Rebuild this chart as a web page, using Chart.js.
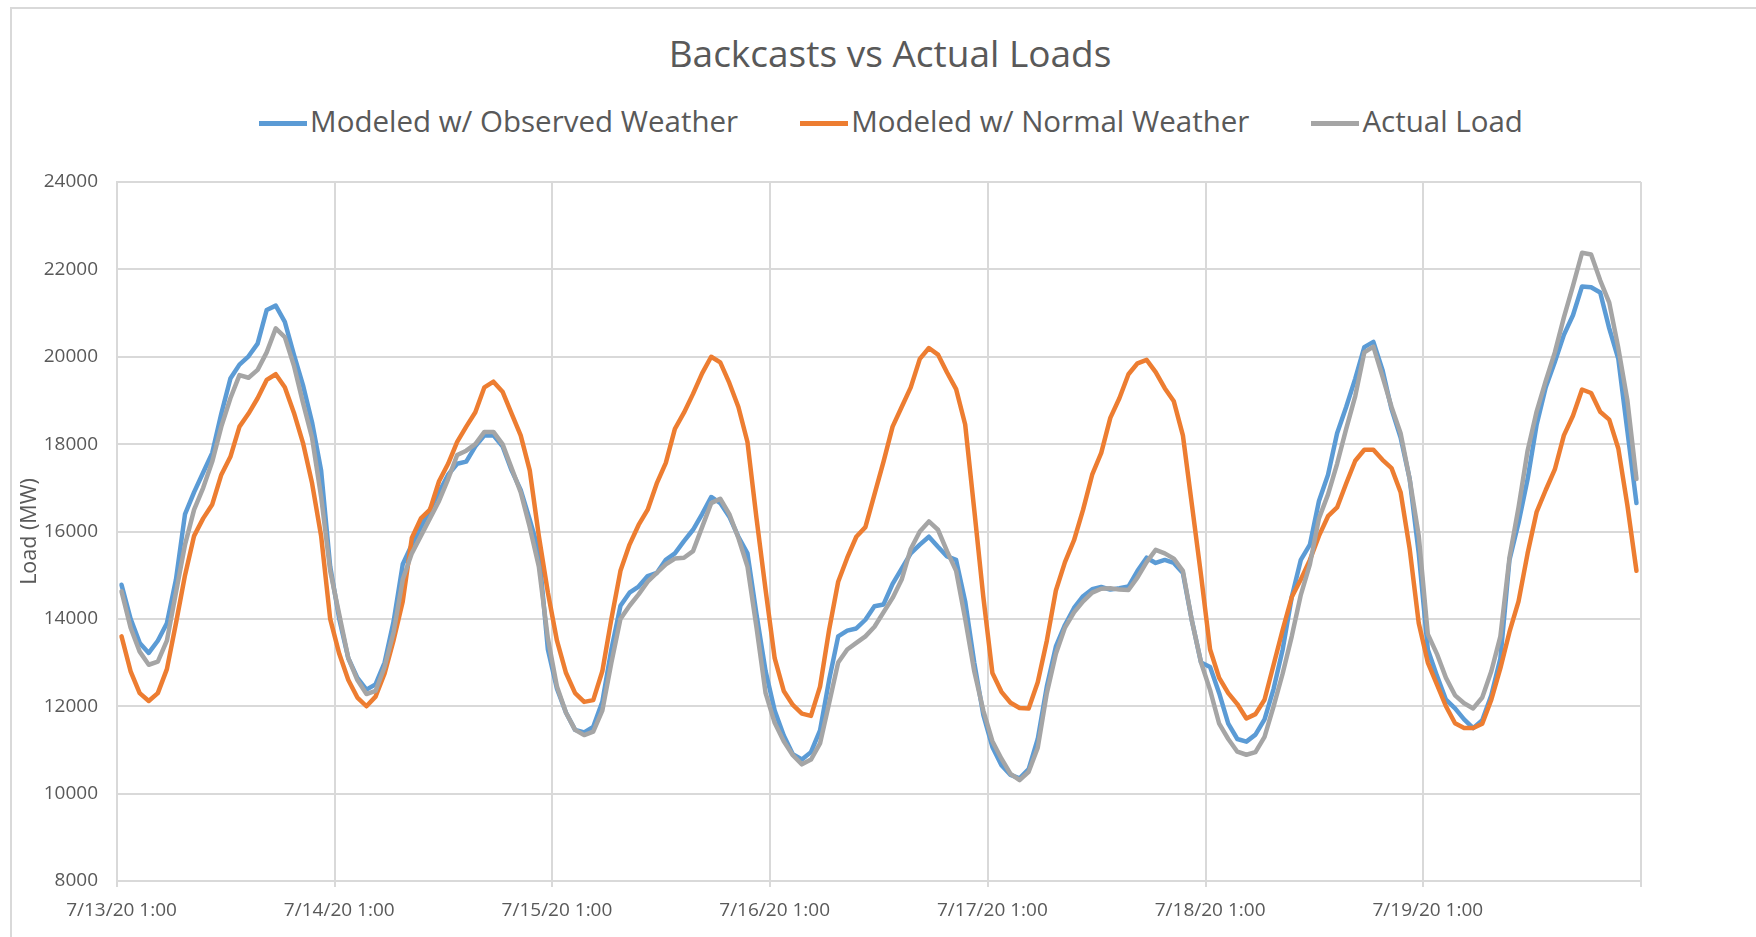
<!DOCTYPE html>
<html>
    <head>
        <meta charset="UTF-8" />
        <title>Backcasts vs Actual Loads</title>
        <script src="https://cdn.jsdelivr.net/npm/chart.js@4.4.2/dist/chart.umd.min.js"></script>
        <style>
            body {
                margin: 0;
                width: 1756px;
                height: 937px;
                overflow: hidden;
                background: #fff;
                font-family: "Open Sans", sans-serif;
                position: relative;
            }

            .frame {
                position: absolute;
                left: 10px;
                top: 7px;
                width: 1900px;
                height: 1100px;
                border: 2px solid #d9d9d9;
                box-sizing: border-box;
            }

            .title {
                position: absolute;
                left: 0;
                top: 35px;
                width: 1780px;
                text-align: center;
                font-size: 37px;
                line-height: 36px;
                color: #595959;
                white-space: nowrap;
            }

            #legend {
                position: absolute;
                left: 0;
                top: 107px;
                width: 1782px;
                display: flex;
                justify-content: center;
                gap: 62px;
                font-size: 29.5px;
                line-height: 28px;
                color: #595959;
                white-space: nowrap;
            }

            #legend .item {
                display: flex;
                align-items: center;
            }

            #legend .swatch {
                display: inline-block;
                width: 48px;
                height: 5px;
                margin-right: 3px;
                position: relative;
                top: 2px;
            }

            #wrap {
                position: absolute;
                left: 0;
                top: 0;
                width: 1756px;
                height: 937px;
            }
        </style>
    </head>
    <body>
        <div class="frame"></div>
        <div class="title">Backcasts vs Actual Loads</div>
        <div id="legend"></div>
        <div id="wrap">
            <canvas id="loadChart" width="1756" height="937"></canvas>
        </div>

        <script>
            // --- data (hourly, 7/13/20 1:00 .. 7/20/20 0:00) ---
            var seriesNames = ["Modeled w/ Observed Weather", "Modeled w/ Normal Weather", "Actual Load"];
            var seriesColors = ["#5b9bd5", "#ed7d31", "#a5a5a5"];
            var dayLabels = ["7/13/20 1:00", "7/14/20 1:00", "7/15/20 1:00", "7/16/20 1:00", "7/17/20 1:00", "7/18/20 1:00", "7/19/20 1:00"];

            var observedWeather = [
                14780, 14000, 13450, 13220, 13500, 13900, 14900, 16400, 16900, 17350, 17800, 18700, 19500, 19820, 20010, 20300, 21070, 21170, 20800, 20050, 19350, 18500, 17400, 15200,
                14000, 13100, 12650, 12380, 12500, 13000, 13950, 15250, 15700, 16100, 16500, 16900, 17300, 17550, 17600, 17950, 18200, 18200, 17950, 17400, 16950, 16270, 15550, 13300,
                12400, 11850, 11460, 11400, 11530, 12100, 13300, 14300, 14600, 14740, 14980, 15050, 15350, 15500, 15780, 16040, 16400, 16790, 16650, 16340, 15880, 15500, 14100, 12800,
                11900, 11330, 10900, 10780, 10950, 11450, 12600, 13600, 13730, 13780, 13980, 14290, 14330, 14800, 15150, 15500, 15700, 15880, 15650, 15430, 15350, 14400, 13000, 11800,
                11070, 10650, 10430, 10350, 10560, 11250, 12450, 13370, 13860, 14250, 14520, 14680, 14730, 14670, 14700, 14740, 15100, 15400, 15280, 15350, 15280, 15050, 13950, 13000,
                12900, 12300, 11600, 11250, 11190, 11350, 11700, 12400, 13300, 14500, 15350, 15700, 16700, 17300, 18250, 18850, 19500, 20220, 20340, 19700, 18800, 18150, 17200, 15500,
                13300, 12700, 12150, 11950, 11700, 11500, 11680, 12250, 13100, 15350, 16200, 17200, 18450, 19300, 19880, 20500, 20950, 21610, 21590, 21470, 20650, 19950, 18300, 16650
            ];

            var normalWeather = [
                13600, 12800, 12300, 12120, 12300, 12850, 13900, 15000, 15900, 16300, 16620, 17300, 17710, 18400, 18700, 19050, 19470, 19600, 19300, 18720, 18030, 17110, 15900, 14000,
                13200, 12600, 12200, 12000, 12220, 12750, 13520, 14400, 15850, 16300, 16500, 17150, 17550, 18050, 18400, 18730, 19300, 19430, 19200, 18700, 18200, 17400, 15900, 14600,
                13500, 12760, 12300, 12100, 12140, 12800, 14000, 15100, 15700, 16150, 16500, 17100, 17570, 18350, 18720, 19150, 19620, 20000, 19870, 19400, 18850, 18050, 16300, 14660,
                13100, 12350, 12030, 11830, 11780, 12450, 13750, 14850, 15400, 15880, 16100, 16850, 17600, 18400, 18850, 19300, 19950, 20200, 20050, 19640, 19260, 18450, 16500, 14500,
                12760, 12330, 12080, 11960, 11950, 12550, 13500, 14650, 15300, 15800, 16500, 17300, 17800, 18600, 19050, 19600, 19850, 19930, 19650, 19280, 18980, 18200, 16600, 15000,
                13300, 12650, 12300, 12050, 11720, 11820, 12150, 12950, 13750, 14500, 14900, 15350, 15900, 16350, 16550, 17100, 17620, 17870, 17870, 17640, 17450, 16900, 15600, 13900,
                13000, 12500, 12000, 11610, 11500, 11500, 11600, 12150, 12870, 13700, 14400, 15500, 16450, 16950, 17420, 18200, 18650, 19250, 19170, 18740, 18560, 17900, 16600, 15100
            ];

            var actualLoad = [
                14630, 13800, 13250, 12950, 13020, 13500, 14600, 15700, 16500, 17000, 17600, 18400, 19050, 19580, 19520, 19700, 20100, 20650, 20450, 19800, 18950, 18150, 16800, 15100,
                14100, 13100, 12600, 12280, 12350, 12900, 13700, 14900, 15500, 15900, 16300, 16700, 17200, 17750, 17850, 18000, 18280, 18280, 18000, 17450, 16900, 16100, 15200, 13550,
                12450, 11850, 11460, 11340, 11420, 11900, 13000, 14000, 14300, 14560, 14850, 15050, 15250, 15380, 15400, 15550, 16100, 16650, 16750, 16400, 15850, 15200, 13800, 12300,
                11620, 11200, 10880, 10670, 10780, 11150, 12070, 13000, 13300, 13450, 13600, 13820, 14150, 14480, 14900, 15600, 16000, 16230, 16040, 15550, 15100, 14000, 12800, 11900,
                11200, 10800, 10450, 10310, 10500, 11050, 12300, 13200, 13800, 14150, 14400, 14600, 14690, 14700, 14670, 14660, 14950, 15300, 15580, 15500, 15380, 15100, 13950, 13000,
                12370, 11600, 11250, 10960, 10890, 10950, 11300, 12000, 12750, 13600, 14550, 15250, 16300, 16850, 17550, 18350, 19100, 20100, 20230, 19550, 18850, 18250, 17200, 15900,
                13650, 13200, 12650, 12250, 12070, 11950, 12200, 12800, 13600, 15400, 16550, 17850, 18750, 19450, 20100, 20900, 21620, 22380, 22340, 21750, 21240, 20200, 19000, 17200
            ];

            // hourly category labels
            var hours = [];
            for (var d = 0; d < 7; d++) {
                for (var h = 1; h <= 24; h++) {
                    hours.push("7/" + (13 + d) + "/20 " + h + ":00");
                }
            }

            // --- legend ---
            var legendEl = document.getElementById("legend");
            seriesNames.forEach(function (name, i) {
                var item = document.createElement("span");
                item.className = "item";
                item.innerHTML = '<span class="swatch" style="background:' + seriesColors[i] + '"></span>' + name;
                legendEl.appendChild(item);
            });

            var gridColor = "#d9d9d9";
            var textColor = "#595959";

            function lineSet(label, data, color, order) {
                return {
                    label: label,
                    data: data,
                    borderColor: color,
                    backgroundColor: color,
                    borderWidth: 4.5,
                    pointRadius: 0,
                    tension: 0,
                    borderJoinStyle: "round",
                    borderCapStyle: "round",
                    order: order,
                };
            }

            var ctx = document.getElementById("loadChart").getContext("2d");
            var loadChart = new Chart(ctx, {
                type: "line",
                data: {
                    labels: hours,
                    datasets: [
                        lineSet(seriesNames[0], observedWeather, seriesColors[0], 2),
                        lineSet(seriesNames[1], normalWeather, seriesColors[1], 1),
                        lineSet(seriesNames[2], actualLoad, seriesColors[2], 0),
                    ],
                },
                options: {
                    responsive: false,
                    animation: false,
                    layout: {
                        padding: { top: 182, right: 115, bottom: 0, left: 0 },
                    },
                    plugins: {
                        legend: { display: false },
                        title: { display: false },
                        tooltip: { enabled: false },
                    },
                    scales: {
                        x: {
                            type: "category",
                            offset: true,
                            afterFit: function (scale) {
                                scale.height = 56;
                            },
                            grid: {
                                offset: true,
                                lineWidth: 2,
                                tickLength: 6,
                                color: function (c) {
                                    return c.index === undefined || c.index % 24 === 0 ? gridColor : "rgba(0,0,0,0)";
                                },
                            },
                            border: { color: gridColor, width: 2 },
                            ticks: {
                                autoSkip: false,
                                maxRotation: 0,
                                minRotation: 0,
                                padding: 12,
                                color: textColor,
                                font: { family: "'Open Sans'", size: 19 },
                                callback: function (value, index) {
                                    return index % 24 === 0 ? dayLabels[index / 24] : "";
                                },
                            },
                        },
                        y: {
                            min: 8000,
                            max: 24000,
                            afterFit: function (scale) {
                                scale.width = 117;
                            },
                            grid: {
                                color: gridColor,
                                lineWidth: 2,
                                drawTicks: false,
                            },
                            border: { color: gridColor, width: 2 },
                            ticks: {
                                stepSize: 2000,
                                padding: 19,
                                color: textColor,
                                font: { family: "'Open Sans'", size: 19 },
                                callback: function (value) {
                                    return String(value);
                                },
                            },
                            title: {
                                display: true,
                                text: "Load (MW)",
                                color: textColor,
                                font: { family: "'Open Sans'", size: 21.5 },
                                padding: { top: 17, bottom: 0 },
                            },
                        },
                    },
                },
            });
        </script>
    </body>
</html>
